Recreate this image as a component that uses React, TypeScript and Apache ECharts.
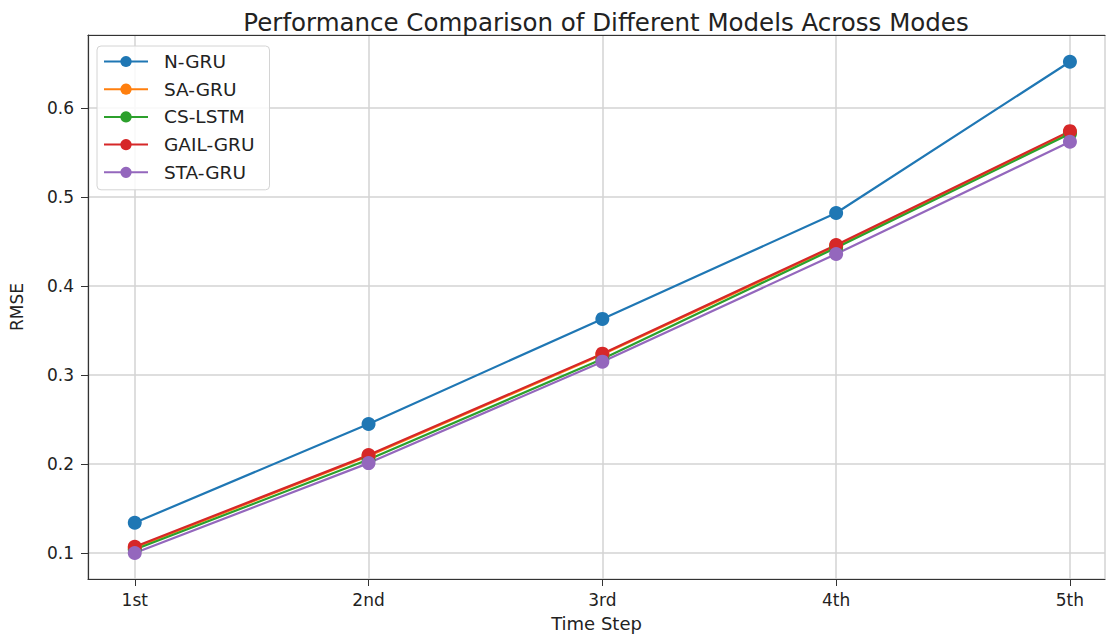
import React, { useEffect, useRef } from "react";
import * as echarts from "echarts";

const categories = ["1st", "2nd", "3rd", "4th", "5th"];
const nGru = [0.134, 0.245, 0.363, 0.482, 0.652];
const saGru = [0.106, 0.209, 0.323, 0.445, 0.573];
const csLstm = [0.104, 0.205, 0.318, 0.443, 0.571];
const gailGru = [0.107, 0.21, 0.324, 0.446, 0.574];
const staGru = [0.1, 0.201, 0.315, 0.436, 0.562];

const seriesDefs = [
  { name: "N-GRU", data: nGru, color: "#1f77b4" },
  { name: "SA-GRU", data: saGru, color: "#ff7f0e" },
  { name: "CS-LSTM", data: csLstm, color: "#2ca02c" },
  { name: "GAIL-GRU", data: gailGru, color: "#d62728" },
  { name: "STA-GRU", data: staGru, color: "#9467bd" },
];

const FONT = "DejaVu Sans";

export default function App() {
  const ref = useRef<HTMLDivElement>(null);
  useEffect(() => {
    if (!ref.current) return;
    const chart = echarts.init(ref.current, null, { renderer: "svg" });
    const labelFmt = (v: number) => {
      const i = Math.round(v);
      return Math.abs(v - i) < 1e-6 && i >= 0 && i < categories.length ? categories[i] : "";
    };
    chart.setOption({
      animation: false,
      backgroundColor: "#ffffff",
      textStyle: { fontFamily: FONT },
      title: {
        text: "Performance Comparison of Different Models Across Modes",
        left: 601,
        textAlign: "center",
        top: 5,
        textStyle: { fontFamily: FONT, fontSize: 24.5, fontWeight: "normal", color: "#222" },
      },
      legend: {
        orient: "vertical",
        left: 97,
        top: 46,
        padding: [6, 15, 8, 6],
        itemWidth: 44,
        itemHeight: 14,
        itemGap: 8.7,
        borderColor: "#d4d4d4",
        borderWidth: 1,
        borderRadius: 4,
        backgroundColor: "rgba(255,255,255,0.85)",
        textStyle: { fontFamily: FONT, fontSize: 18.5, color: "#222", padding: [0, 0, 0, 11] },
        data: seriesDefs.map((s) => s.name),
      },
      grid: {
        left: 87,
        right: 4,
        top: 35,
        bottom: 58,
        containLabel: false,
      },
      xAxis: [
        {
          type: "value",
          min: -0.2,
          max: 4.15,
          name: "Time Step",
          nameLocation: "middle",
          nameGap: 35,
          nameTextStyle: { fontFamily: FONT, fontSize: 18, color: "#222" },
          axisLine: { show: true, onZero: false, lineStyle: { color: "#333", width: 1.2 } },
          axisTick: { show: true, length: 7, lineStyle: { color: "#333" } },
          axisLabel: {
            fontFamily: FONT,
            fontSize: 17,
            color: "#222",
            margin: 12,
            showMinLabel: false,
            showMaxLabel: false,
            formatter: labelFmt,
          },
          splitLine: { show: true, lineStyle: { color: "#d3d3d3", width: 1.5 } },
        },
        {
          type: "value",
          position: "top",
          min: -0.2,
          max: 4.15,
          axisLine: { show: true, onZero: false, lineStyle: { color: "#333", width: 1.2 } },
          axisTick: { show: false },
          axisLabel: { show: false },
          splitLine: { show: false },
        },
      ],
      yAxis: {
        type: "value",
        min: 0.0708,
        max: 0.682,
        name: "RMSE",
        nameLocation: "middle",
        nameGap: 63,
        nameTextStyle: { fontFamily: FONT, fontSize: 17, color: "#222" },
        axisLine: { show: true, onZero: false, lineStyle: { color: "#333", width: 1.2 } },
        axisTick: { show: true, length: 7, lineStyle: { color: "#333" } },
        axisLabel: {
          fontFamily: FONT,
          fontSize: 17,
          color: "#222",
          margin: 14,
          showMinLabel: false,
          showMaxLabel: false,
          formatter: (v: number) => {
            const r = Math.round(v * 10) / 10;
            return Math.abs(v - r) < 1e-6 ? r.toFixed(1) : "";
          },
        },
        splitLine: { show: true, lineStyle: { color: "#d3d3d3", width: 1.5 } },
      },
      series: seriesDefs.map((s) => ({
        name: s.name,
        type: "line",
        xAxisIndex: 0,
        data: s.data.map((v, i) => [i, v]),
        symbol: "circle",
        symbolSize: 14,
        color: s.color,
        lineStyle: { width: 2.2, color: s.color },
        itemStyle: { color: s.color },
      })),
    });
    return () => chart.dispose();
  }, []);
  return (
    <div
      ref={ref}
      style={{ width: 1109, height: 637, position: "fixed", left: 0, top: 0 }}
    />
  );
}
